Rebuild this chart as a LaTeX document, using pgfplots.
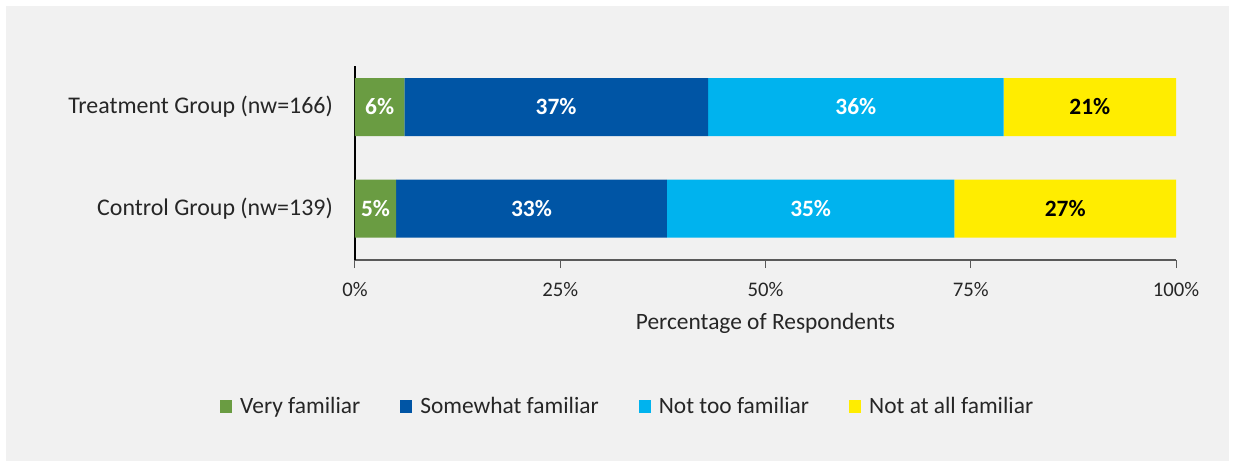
\documentclass[border=0pt]{standalone}
\usepackage{pgfplots}
\pgfplotsset{compat=1.18}
\usepackage{fontspec}
\setmainfont{Carlito}
\definecolor{cgreen}{HTML}{6A9C42}
\definecolor{cdblue}{HTML}{0055A5}
\definecolor{clblue}{HTML}{00B3EE}
\definecolor{cyellow}{HTML}{FFED00}
\definecolor{bggray}{HTML}{F1F1F1}
\definecolor{axgray}{HTML}{595959}
\definecolor{txt}{HTML}{262626}
\newcommand{\bigf}{\fontsize{23.5}{28}\selectfont}
\newcommand{\catf}{\fontsize{24}{29}\selectfont}
\newcommand{\tickf}{\fontsize{20.8}{25}\selectfont}
\begin{document}
\begin{tikzpicture}
\useasboundingbox (-355bp,-207bp) rectangle (880bp,260bp);
\fill[white] (-355bp,-207bp) rectangle (880bp,260bp);
\fill[bggray] (-349bp,-201bp) rectangle (874bp,254bp);
\begin{axis}[
  scale only axis, width=821bp, height=194bp,
  xbar stacked, bar width=58bp,
  xmin=0, xmax=100, ymin=-0.507, ymax=1.404,
  enlargelimits=false,
  axis lines=left,
  x axis line style={-, draw=axgray, line width=1.3bp},
  y axis line style={-, draw=black, line width=2bp},
  ytick={0,1},
  yticklabels={Control Group (nw=139), Treatment Group (nw=166)},
  yticklabel style={font=\catf, text=txt, inner sep=0pt, anchor=east, xshift=-14bp},
  ytick style={draw=none},
  xtick={0,25,50,75,100},
  xticklabels={0\%,25\%,50\%,75\%,100\%},
  xticklabel style={font=\tickf, text=txt, inner sep=0pt, anchor=north, yshift=-14bp},
  xtick style={draw=axgray, line width=1bp},
  tick align=outside, major tick length=8bp,
  xlabel={Percentage of Respondents},
  xlabel style={font=\bigf, text=txt, at={(axis description cs:0.5,-0.325)}, anchor=center},
  legend columns=4,
  legend style={draw=none, fill=none, font=\bigf, text=txt,
    at={(axis description cs:0.331,-0.7526)}, anchor=center,
    nodes={inner sep=0pt},
    /tikz/every odd column/.append style={column sep=8bp},
    /tikz/every even column/.append style={column sep=40bp}},
  legend image code/.code={\fill[#1] (0bp,-7bp) rectangle (12bp,6bp);},
]
\addplot[fill=cgreen, draw=none] coordinates {(6,1) (5,0)};
\addplot[fill=cdblue, draw=none] coordinates {(37,1) (33,0)};
\addplot[fill=clblue, draw=none] coordinates {(36,1) (35,0)};
\addplot[fill=cyellow, draw=none] coordinates {(21,1) (27,0)};
\legend{Very familiar, Somewhat familiar, Not too familiar, Not at all familiar}
\end{axis}
\begin{axis}[
  scale only axis, width=821bp, height=194bp,
  xmin=0, xmax=100, ymin=-0.507, ymax=1.404,
  hide axis,
]
\addplot[draw=none, mark=none, nodes near coords, point meta=explicit symbolic,
  nodes near coords style={anchor=center, font=\bigf\bfseries, text=white}]
  coordinates {(3,1)[6\%] (24.5,1)[37\%] (61,1)[36\%] (2.5,0)[5\%] (21.5,0)[33\%] (55.5,0)[35\%]};
\addplot[draw=none, mark=none, nodes near coords, point meta=explicit symbolic,
  nodes near coords style={anchor=center, font=\bigf\bfseries, text=black}]
  coordinates {(89.5,1)[21\%] (86.5,0)[27\%]};
\end{axis}
\end{tikzpicture}
\end{document}
